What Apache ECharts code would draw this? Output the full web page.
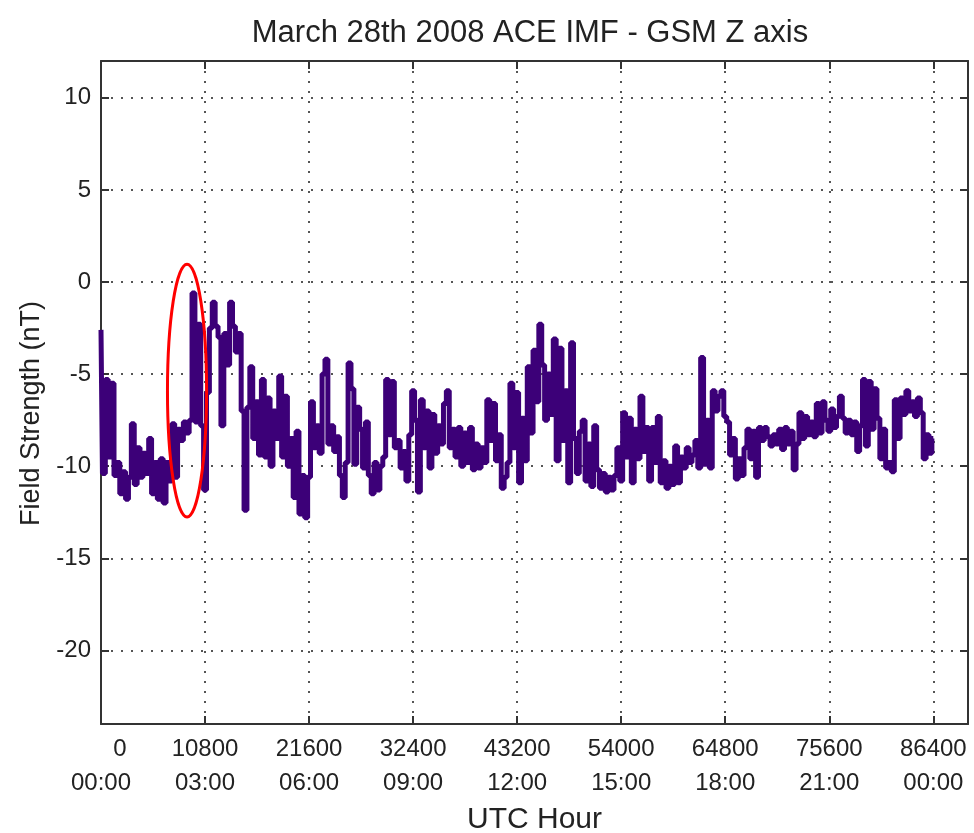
<!DOCTYPE html>
<html>
<head>
<meta charset="utf-8">
<title>ACE IMF GSM Z</title>
<script src="https://cdn.jsdelivr.net/npm/echarts@6/dist/echarts.min.js"></script>
<style>
  html, body { margin: 0; padding: 0; background: #fff; }
  #main { width: 974px; height: 833px; }
</style>
</head>
<body>
<div id="main"></div>
<script>
// 5-minute samples starting at 00:00 UTC
var sampleStep = 300;
var bz = [
  -2.6, -10.4, -5.3, -9.5, -5.5, -10.5, -9.8, -11.5, -10.3, -11.8,
  -10.6, -7.7, -11.0, -9.0, -10.6, -9.3, -10.4, -8.5, -11.5, -9.8,
  -11.8, -9.6, -12.0, -9.8, -10.8, -7.7, -10.6, -8.0, -8.6, -7.6,
  -8.2, -7.5, -0.6, -7.6, -2.3, -7.8, -11.3, -6.0, -2.5, -1.1,
  -2.4, -3.0, -7.8, -2.8, -4.5, -1.1, -2.4, -3.8, -2.8, -7.0,
  -12.4, -6.8, -4.6, -8.5, -6.5, -9.4, -5.3, -9.5, -6.3, -10.0,
  -7.0, -8.5, -5.1, -9.5, -6.2, -10.0, -8.5, -11.7, -8.1, -12.6,
  -10.5, -12.8, -10.6, -6.5, -9.0, -7.8, -9.3, -5.0, -4.2, -8.8,
  -7.8, -9.2, -8.4, -10.5, -11.7, -9.8, -4.4, -5.8, -9.9, -6.8,
  -8.0, -10.1, -7.6, -10.5, -11.5, -9.8, -11.3, -10.0, -9.5, -5.3,
  -8.3, -5.4, -9.0, -8.6, -10.1, -9.2, -10.8, -8.3, -5.9, -7.5,
  -11.4, -6.4, -9.0, -7.0, -10.1, -7.2, -9.3, -7.8, -8.8, -6.6,
  -5.9, -9.0, -8.0, -9.5, -7.9, -10.0, -8.2, -9.8, -7.9, -10.2,
  -8.8, -10.1, -9.0, -9.8, -6.4, -8.6, -6.6, -9.7, -8.3, -11.2,
  -10.6, -9.8, -5.5, -9.0, -6.0, -10.9, -7.4, -9.7, -4.6, -8.2,
  -3.7, -6.5, -2.3, -4.5, -7.5, -5.0, -7.2, -3.1, -9.7, -3.6,
  -8.6, -5.9, -10.9, -3.3, -8.5, -10.4, -8.1, -7.5, -10.8, -8.8,
  -11.1, -7.8, -10.2, -11.2, -10.4, -11.4, -10.6, -11.3, -10.5, -9.0,
  -10.8, -7.1, -9.5, -7.4, -10.9, -8.0, -9.6, -6.2, -9.2, -7.9,
  -10.8, -7.9, -9.8, -7.3, -10.9, -9.7, -11.2, -10.0, -11.0, -8.9,
  -10.9, -9.5, -10.1, -9.0, -9.8, -9.4, -8.6, -10.1, -4.1, -9.9,
  -7.5, -10.1, -5.9, -7.0, -6.2, -5.9, -7.3, -7.6, -9.4, -8.5,
  -10.7, -9.6, -10.5, -9.0, -8.0, -9.6, -8.1, -10.6, -7.9, -8.6,
  -7.9, -8.4, -8.9, -8.3, -8.8, -8.0, -9.1, -7.9, -8.8, -8.1,
  -10.2, -8.8, -7.1, -8.5, -7.3, -8.3, -7.6, -8.4, -6.6, -8.2,
  -6.5, -7.5, -8.1, -6.9, -7.9, -7.3, -6.2, -7.4, -8.2, -7.5,
  -8.3, -7.6, -9.2, -7.8, -5.3, -8.9, -5.4, -8.0, -5.8, -7.4,
  -9.6, -8.0, -10.1, -9.8, -10.3, -6.4, -8.5, -6.3, -7.2, -5.9,
  -7.0, -6.5, -7.3, -6.3, -7.1, -9.6, -8.3, -9.3, -8.5
];

var xTicks = [0, 10800, 21600, 32400, 43200, 54000, 64800, 75600, 86400];
var xHours = ['00:00', '03:00', '06:00', '09:00', '12:00', '15:00', '18:00', '21:00', '00:00'];
var yTicks = [-20, -15, -10, -5, 0, 5, 10];

// red ellipse around the event (centre and half-axes in data units)
var ringCenter = [8930, -5.9];
var ringRadius = [2030, 6.86];

var font = "'Liberation Sans', Arial, sans-serif";
var frame = '#333';
var gridDots = { color: '#555', width: 2, type: [2, 8] };
var tickStyle = { show: true, inside: true, length: 8, lineStyle: { color: frame, width: 2 } };

var points = bz.map(function (v, i) { return [i * sampleStep, v]; });

var myChart = echarts.init(document.getElementById('main'));

function frameAxis(extra) {
  return Object.assign({
    type: 'value',
    axisLine: { show: true, onZero: false, lineStyle: { color: frame, width: 2 } },
    axisTick: tickStyle,
    splitLine: { show: false }
  }, extra);
}

var option = {
  backgroundColor: '#fff',
  animation: false,
  title: {
    text: 'March 28th 2008 ACE IMF - GSM Z axis',
    left: 525,
    top: 13,
    textAlign: 'center',
    textStyle: { fontFamily: font, fontSize: 31, fontWeight: 'normal', color: '#222' }
  },
  grid: { left: 101, right: 6, top: 61, bottom: 109, outerBoundsMode: 'none' },
  xAxis: [
    frameAxis({
      min: 0,
      max: 90000,
      name: 'UTC Hour',
      nameLocation: 'middle',
      nameGap: 81,
      nameTextStyle: { fontFamily: font, fontSize: 30, color: '#222' },
      axisTick: Object.assign({ customValues: xTicks }, tickStyle),
      axisLabel: {
        customValues: xTicks,
        margin: 8,
        formatter: function (val) {
          var k = xTicks.indexOf(val);
          if (k === 0) return '{z|' + val + '}\n{a|' + xHours[k] + '}';
          return '{a|' + val + '}\n{a|' + xHours[k] + '}';
        },
        rich: {
          a: { fontFamily: font, fontSize: 24, lineHeight: 34, color: '#222', align: 'center' },
          z: { fontFamily: font, fontSize: 24, lineHeight: 34, color: '#222', align: 'center', padding: [0, 0, 0, 38] }
        }
      },
      splitLine: { show: true, lineStyle: gridDots }
    }),
    frameAxis({
      position: 'top',
      min: 0,
      max: 90000,
      axisTick: Object.assign({ customValues: xTicks }, tickStyle),
      axisLabel: { show: false }
    })
  ],
  yAxis: [
    frameAxis({
      min: -24,
      max: 12,
      name: 'Field Strength (nT)',
      nameLocation: 'middle',
      nameGap: 50,
      nameTextStyle: { fontFamily: font, fontSize: 27, color: '#222', padding: [0, 42, 0, 0] },
      axisTick: Object.assign({ customValues: yTicks }, tickStyle),
      axisLabel: { customValues: yTicks, margin: 10, fontFamily: font, fontSize: 24, color: '#222' },
      splitLine: { show: true, lineStyle: gridDots }
    }),
    frameAxis({
      position: 'right',
      min: -24,
      max: 12,
      axisTick: Object.assign({ customValues: yTicks }, tickStyle),
      axisLabel: { show: false }
    })
  ],
  series: [{
    name: 'Bz GSM',
    type: 'line',
    data: points,
    step: 'middle',
    showSymbol: false,
    symbol: 'none',
    lineStyle: { color: '#3c0078', width: 5 },
    z: 3
  }, {
    name: 'event',
    type: 'custom',
    data: [ringCenter],
    z: 4,
    renderItem: function (params, api) {
      var c = api.coord([api.value(0), api.value(1)]);
      var s = api.size(ringRadius);
      return {
        type: 'ellipse',
        shape: { cx: c[0], cy: c[1], rx: s[0], ry: s[1] },
        style: { fill: 'none', stroke: '#ff0000', lineWidth: 3 }
      };
    }
  }]
};

myChart.setOption(option);
</script>
</body>
</html>
